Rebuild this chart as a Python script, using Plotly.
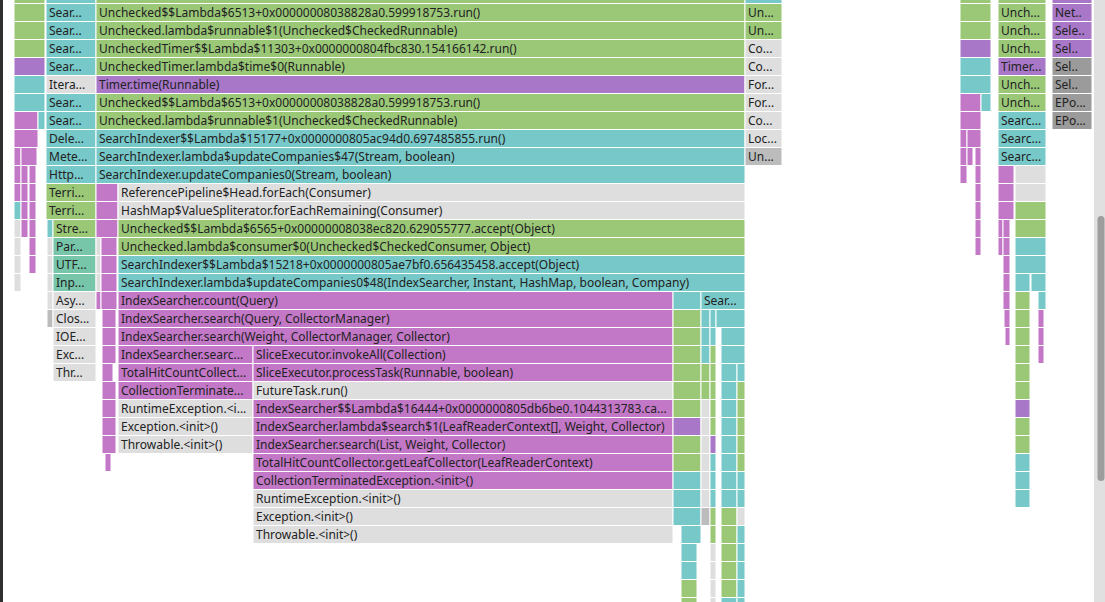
import plotly.graph_objects as go

# Flame-graph frames: (depth, start_sample, end_sample, kind, label)
left_frames = [
    (-1, 14, 45, "g", ""), (0, 14, 45, "g", ""), (1, 14, 45, "g", ""), (2, 14, 45, "g", ""),
    (3, 14, 45, "v", ""), (4, 14, 45, "t", ""), (5, 14, 45, "t", ""),
    (6, 14, 38, "p", ""), (6, 38, 45, "t", ""),
    (7, 14, 38, "p", ""),
    (8, 14, 21, "p", ""), (8, 21, 37, "p", ""),
    (9, 14, 21, "p", ""), (9, 21, 28, "p", ""), (9, 29, 36, "p", ""),
    (10, 14, 21, "p", ""), (10, 21, 28, "p", ""), (10, 29, 36, "p", ""),
    (11, 14, 21, "t", ""), (11, 21, 28, "p", ""), (11, 29, 36, "p", ""),
    (12, 14, 21, "l", ""), (12, 21, 28, "p", ""), (12, 29, 36, "p", ""),
    (13, 14, 21, "l", ""), (13, 29, 36, "p", ""),
    (14, 14, 21, "l", ""), (14, 29, 36, "p", ""),
    (15, 14, 21, "l", ""),
]

thread_frames = [
    (-1, 46, 96, "t", ""),
    (0, 46, 96, "t", "Sear..."), (1, 46, 96, "t", "Sear..."), (2, 46, 96, "t", "Sear..."),
    (3, 46, 96, "t", "Sear..."), (4, 46, 96, "l", "Itera..."), (5, 46, 96, "t", "Sear..."),
    (6, 46, 96, "t", "Sear..."), (7, 46, 96, "t", "Dele..."), (8, 46, 96, "t", "Mete..."),
    (9, 46, 96, "t", "Http..."), (10, 46, 96, "g", "Terri..."), (11, 46, 96, "g", "Terri..."),
    (12, 47, 53, "t", ""), (12, 53, 96, "g", "Stre..."),
    (13, 47, 53, "l", ""), (13, 53, 96, "m", "Par..."),
    (14, 47, 53, "l", ""), (14, 53, 96, "m", "UTF..."),
    (15, 47, 53, "l", ""), (15, 53, 96, "m", "Inp..."),
    (16, 47, 53, "l", ""), (16, 53, 96, "l", "Asy..."),
    (17, 47, 53, "s", ""), (17, 53, 96, "l", "Clos..."),
    (18, 53, 96, "l", "IOE..."), (19, 53, 96, "l", "Exc..."), (20, 53, 96, "l", "Thr..."),
]

main_frames = [
    (-1, 96, 745, "g", ""),
    (0, 96, 745, "g", "Unchecked$$Lambda$6513+0x00000008038828a0.599918753.run()"),
    (1, 96, 745, "g", "Unchecked.lambda$runnable$1(Unchecked$CheckedRunnable)"),
    (2, 96, 745, "g", "UncheckedTimer$$Lambda$11303+0x0000000804fbc830.154166142.run()"),
    (3, 96, 745, "g", "UncheckedTimer.lambda$time$0(Runnable)"),
    (4, 96, 745, "v", "Timer.time(Runnable)"),
    (5, 96, 745, "g", "Unchecked$$Lambda$6513+0x00000008038828a0.599918753.run()"),
    (6, 96, 745, "g", "Unchecked.lambda$runnable$1(Unchecked$CheckedRunnable)"),
    (7, 96, 745, "t", "SearchIndexer$$Lambda$15177+0x0000000805ac94d0.697485855.run()"),
    (8, 96, 745, "t", "SearchIndexer.lambda$updateCompanies$47(Stream, boolean)"),
    (9, 96, 745, "t", "SearchIndexer.updateCompanies0(Stream, boolean)"),
    (10, 96, 118, "p", ""), (10, 118, 745, "l", "ReferencePipeline$Head.forEach(Consumer)"),
    (11, 96, 118, "p", ""), (11, 118, 745, "l", "HashMap$ValueSpliterator.forEachRemaining(Consumer)"),
    (12, 96, 118, "p", ""), (12, 118, 745, "g", "Unchecked$$Lambda$6565+0x00000008038ec820.629055777.accept(Object)"),
    (13, 96, 101, "l", ""), (13, 101, 117, "p", ""),
    (13, 118, 745, "g", "Unchecked.lambda$consumer$0(Unchecked$CheckedConsumer, Object)"),
    (14, 96, 101, "l", ""), (14, 101, 117, "p", ""),
    (14, 118, 745, "t", "SearchIndexer$$Lambda$15218+0x0000000805ae7bf0.656435458.accept(Object)"),
    (15, 96, 101, "l", ""), (15, 101, 117, "p", ""),
    (15, 118, 745, "t", "SearchIndexer.lambda$updateCompanies0$48(IndexSearcher, Instant, HashMap, boolean, Company)"),
    (16, 96, 101, "p", ""), (16, 101, 117, "p", ""),
    (16, 118, 673, "p", "IndexSearcher.count(Query)"), (16, 673, 701, "t", ""), (16, 701, 745, "t", "Sear..."),
    (17, 102, 116, "p", ""), (17, 118, 673, "p", "IndexSearcher.search(Query, CollectorManager)"),
    (17, 673, 701, "g", ""), (17, 701, 710, "t", ""), (17, 710, 716, "t", ""), (17, 716, 745, "t", ""),
    (18, 102, 116, "p", ""), (18, 118, 673, "p", "IndexSearcher.search(Weight, CollectorManager, Collector)"),
    (18, 673, 701, "g", ""), (18, 701, 710, "t", ""), (18, 710, 716, "t", ""), (18, 721, 745, "t", ""),
    (19, 102, 116, "p", ""), (19, 118, 253, "p", "IndexSearcher.searc..."),
    (19, 253, 673, "p", "SliceExecutor.invokeAll(Collection)"),
    (19, 673, 701, "g", ""), (19, 701, 710, "t", ""), (19, 710, 716, "g", ""), (19, 721, 745, "t", ""),
    (20, 102, 113, "p", ""), (20, 118, 253, "p", "TotalHitCountCollect..."),
    (20, 253, 673, "p", "SliceExecutor.processTask(Runnable, boolean)"),
    (20, 673, 701, "g", ""), (20, 701, 710, "g", ""), (20, 710, 716, "g", ""), (20, 721, 737, "t", ""), (20, 737, 745, "t", ""),
    (21, 102, 116, "p", ""), (21, 118, 253, "p", "CollectionTerminate..."),
    (21, 253, 673, "l", "FutureTask.run()"),
    (21, 673, 701, "g", ""), (21, 701, 710, "g", ""), (21, 710, 716, "g", ""), (21, 721, 737, "t", ""), (21, 737, 745, "g", ""),
    (22, 102, 116, "p", ""), (22, 118, 253, "l", "RuntimeException.<i..."),
    (22, 253, 673, "p", "IndexSearcher$$Lambda$16444+0x0000000805db6be0.1044313783.ca..."),
    (22, 673, 701, "g", ""), (22, 701, 710, "l", ""), (22, 710, 716, "g", ""), (22, 721, 737, "t", ""), (22, 737, 745, "g", ""),
    (23, 102, 116, "p", ""), (23, 118, 253, "l", "Exception.<init>()"),
    (23, 253, 673, "p", "IndexSearcher.lambda$search$1(LeafReaderContext[], Weight, Collector)"),
    (23, 673, 701, "v", ""), (23, 701, 710, "l", ""), (23, 710, 716, "g", ""), (23, 721, 737, "t", ""), (23, 737, 745, "g", ""),
    (24, 102, 116, "p", ""), (24, 118, 253, "l", "Throwable.<init>()"),
    (24, 253, 673, "p", "IndexSearcher.search(List, Weight, Collector)"),
    (24, 673, 701, "g", ""), (24, 701, 710, "l", ""), (24, 710, 716, "v", ""), (24, 721, 737, "t", ""), (24, 737, 745, "g", ""),
    (25, 105, 111, "p", ""),
    (25, 253, 673, "p", "TotalHitCountCollector.getLeafCollector(LeafReaderContext)"),
    (25, 673, 701, "g", ""), (25, 701, 710, "l", ""), (25, 710, 716, "t", ""), (25, 721, 737, "t", ""), (25, 737, 745, "g", ""),
    (26, 253, 673, "p", "CollectionTerminatedException.<init>()"),
    (26, 673, 701, "t", ""), (26, 701, 710, "l", ""), (26, 710, 716, "t", ""), (26, 721, 737, "t", ""), (26, 737, 745, "t", ""),
    (27, 253, 673, "l", "RuntimeException.<init>()"),
    (27, 673, 701, "t", ""), (27, 701, 710, "l", ""), (27, 710, 716, "t", ""), (27, 721, 737, "t", ""), (27, 737, 745, "t", ""),
    (28, 253, 673, "l", "Exception.<init>()"),
    (28, 673, 701, "t", ""), (28, 701, 710, "s", ""), (28, 710, 716, "g", ""), (28, 721, 737, "g", ""), (28, 737, 745, "l", ""),
    (29, 253, 673, "l", "Throwable.<init>()"),
    (29, 681, 701, "t", ""), (29, 710, 716, "g", ""), (29, 721, 737, "g", ""), (29, 737, 745, "t", ""),
    (30, 681, 697, "t", ""), (30, 710, 716, "l", ""), (30, 721, 737, "g", ""), (30, 737, 745, "t", ""),
    (31, 681, 697, "t", ""), (31, 710, 716, "l", ""), (31, 721, 737, "g", ""), (31, 737, 745, "t", ""),
    (32, 681, 697, "g", ""), (32, 710, 716, "l", ""), (32, 721, 737, "g", ""), (32, 737, 745, "t", ""),
    (33, 681, 697, "g", ""), (33, 710, 716, "l", ""), (33, 721, 737, "t", ""), (33, 737, 745, "t", ""),
]

side_frames = [
    (-1, 745, 782, "t", ""),
    (0, 745, 782, "g", "Un..."), (1, 745, 782, "g", "Un..."), (2, 745, 782, "l", "Co..."),
    (3, 745, 782, "l", "Co..."), (4, 745, 782, "l", "For..."), (5, 745, 782, "l", "For..."),
    (6, 745, 782, "l", "Co..."), (7, 745, 782, "l", "Loc..."), (8, 745, 782, "s", "Un..."),
]

right_frames = [
    (-1, 960, 991, "g", ""), (0, 960, 991, "g", ""), (1, 960, 991, "g", ""), (2, 960, 991, "v", ""),
    (3, 960, 991, "t", ""), (4, 960, 991, "t", ""),
    (5, 960, 981, "p", ""), (5, 981, 991, "t", ""),
    (6, 960, 981, "p", ""),
    (7, 960, 967, "p", ""), (7, 967, 981, "p", ""),
    (8, 960, 967, "p", ""), (8, 967, 973, "p", ""), (8, 975, 981, "p", ""),
    (9, 960, 967, "p", ""), (9, 975, 981, "p", ""),
    (10, 975, 981, "p", ""), (11, 975, 981, "p", ""), (12, 975, 981, "p", ""), (13, 975, 981, "p", ""),
    (-1, 998, 1046, "g", ""),
    (0, 998, 1046, "g", "Unch..."), (1, 998, 1046, "g", "Unch..."), (2, 998, 1046, "g", "Unch..."),
    (3, 998, 1046, "v", "Timer..."), (4, 998, 1046, "g", "Unch..."), (5, 998, 1046, "g", "Unch..."),
    (6, 998, 1046, "t", "Searc..."), (7, 998, 1046, "t", "Searc..."), (8, 998, 1046, "t", "Searc..."),
    (9, 998, 1014, "p", ""), (9, 1015, 1046, "l", ""),
    (10, 998, 1014, "p", ""), (10, 1015, 1046, "l", ""),
    (11, 998, 1014, "p", ""), (11, 1015, 1046, "g", ""),
    (12, 998, 1003, "p", ""), (12, 1003, 1010, "p", ""), (12, 1015, 1046, "g", ""),
    (13, 998, 1003, "p", ""), (13, 1003, 1010, "p", ""), (13, 1015, 1046, "t", ""),
    (14, 1003, 1010, "p", ""), (14, 1015, 1046, "t", ""),
    (15, 1003, 1010, "p", ""), (15, 1015, 1030, "t", ""), (15, 1031, 1046, "t", ""),
    (16, 1003, 1010, "p", ""), (16, 1015, 1030, "g", ""), (16, 1038, 1046, "t", ""),
    (17, 1004, 1010, "p", ""), (17, 1015, 1030, "g", ""), (17, 1038, 1044, "p", ""),
    (18, 1005, 1010, "p", ""), (18, 1015, 1030, "g", ""), (18, 1038, 1044, "p", ""),
    (19, 1015, 1030, "g", ""), (19, 1038, 1044, "p", ""),
    (20, 1015, 1030, "g", ""), (21, 1015, 1030, "g", ""), (22, 1015, 1030, "v", ""),
    (23, 1015, 1030, "g", ""), (24, 1015, 1030, "g", ""), (25, 1015, 1030, "t", ""),
    (26, 1015, 1030, "t", ""), (27, 1015, 1030, "t", ""),
    (-1, 1052, 1092, "v", ""),
    (0, 1052, 1092, "v", "Net.."), (1, 1052, 1092, "v", "Sele.."), (2, 1052, 1092, "v", "Sel.."),
    (3, 1052, 1092, "d", "Sel.."), (4, 1052, 1092, "d", "Sel.."), (5, 1052, 1092, "d", "EPo..."),
    (6, 1052, 1092, "d", "EPo..."),
]

kind_colors = {
    "g": "#9ac877", "t": "#77c8c8", "m": "#77c6aa", "p": "#c377c7",
    "v": "#a877c8", "l": "#dedede", "s": "#bcbcbc", "d": "#9b9b9b",
}

frames = left_frames + thread_frames + main_frames + side_frames + right_frames
depths = [f[0] for f in frames]
starts = [f[1] for f in frames]
widths = [f[2] - f[1] for f in frames]
colors = [kind_colors[f[3]] for f in frames]
labels = [f[4] for f in frames]

fig = go.Figure(go.Bar(
    orientation="h",
    y=depths, x=widths, base=starts, width=1,
    marker=dict(color=colors, line=dict(color="#ffffff", width=1)),
    text=labels, textposition="inside", insidetextanchor="start", textangle=0,
    textfont=dict(family="Noto Sans", size=12, color="#222222"),
    hoverinfo="skip",
))

W, H = 1105, 602
shapes = [
    dict(type="rect", xref="paper", yref="paper", x0=0, x1=3 / W, y0=0, y1=1,
         fillcolor="#2f2f2f", line=dict(width=0), layer="above"),
    dict(type="rect", xref="paper", yref="paper", x0=1094 / W, x1=1, y0=0, y1=1,
         fillcolor="#e0e0e0", line=dict(width=0), layer="above"),
]
tx0, tx1 = 1097.5 / W, 1104.5 / W
ty0, ty1 = 1 - 481 / H, 1 - 216 / H
r = 3.5
shapes.append(dict(
    type="path", xref="paper", yref="paper",
    path=(f"M {tx0} {ty0 + r / H} L {tx0} {ty1 - r / H} "
          f"Q {tx0} {ty1} {tx0 + r / W} {ty1} L {tx1 - r / W} {ty1} "
          f"Q {tx1} {ty1} {tx1} {ty1 - r / H} L {tx1} {ty0 + r / H} "
          f"Q {tx1} {ty0} {tx1 - r / W} {ty0} L {tx0 + r / W} {ty0} "
          f"Q {tx0} {ty0} {tx0} {ty0 + r / H} Z"),
    fillcolor="#9d9d9d", line=dict(width=0), layer="above"))

fig.update_layout(
    width=W, height=H, margin=dict(l=0, r=0, t=0, b=0),
    paper_bgcolor="#ffffff", plot_bgcolor="#ffffff", showlegend=False,
    xaxis=dict(range=[0, W], visible=False, fixedrange=True),
    yaxis=dict(range=[(H - 12.5) / 18, -12.5 / 18], visible=False, fixedrange=True),
    uniformtext=dict(minsize=12, mode="show"),
    shapes=shapes,
)

fig.write_html(
    "out.html",
    config={"displayModeBar": False},
    post_script="document.body.style.margin='0px';document.body.style.overflow='hidden';",
)
